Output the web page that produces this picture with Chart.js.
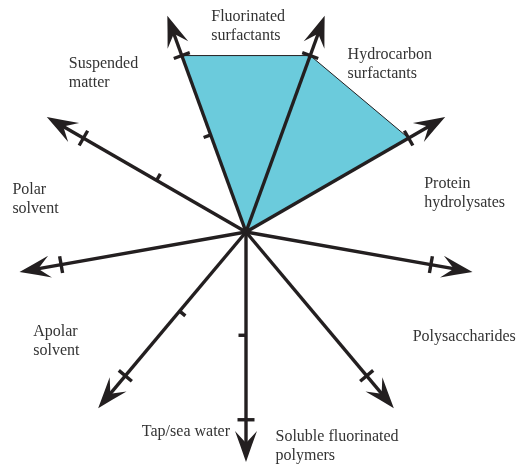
<!DOCTYPE html>
<html>
<head>
<meta charset="utf-8">
<script src="https://cdn.jsdelivr.net/npm/chart.js@4"></script>
<style>
  body { margin: 0; background: #fff; }
</style>
</head>
<body>
<canvas id="myChart" width="517" height="468"></canvas>
<script>
// DATA ----------------------------------------
const categories = [
    ['Fluorinated', 'surfactants'],
    ['Hydrocarbon', 'surfactants'],
    ['Protein', 'hydrolysates'],
    ['Polysaccharides'],
    ['Soluble fluorinated', 'polymers'],
    ['Tap/sea water'],
    ['Apolar', 'solvent'],
    ['Polar', 'solvent'],
    ['Suspended', 'matter']
];
const values   = [2, 2, 2, 0, 0, 0, 0, 0, 0];        // filled area
const fullTick = [2, 2, 2, 2, 2, 2, 2, 2, 2];        // tick across the axis
const midTick  = [1.1, null, null, null, null, 1.1, 1.1, null, 1.1];  // half tick
const axisEnd  = 2.45;                               // where the arrow tips sit

// LAYOUT / STYLE -------------------------------
const ink = '#231f20';
const midSide    = [-1, 0, 0, 0, 0, 1, -1, 0, 1];    // +1 = clockwise side
const labelTurn  = [20.6, 20.6, 20, 15.6, 17, 16.7, 20, 18.8, 18];   // degrees past the axis
const labelDist  = [206, 221, 222, 242, 233, 209, 219, 213, 213];    // px from centre
const lineGap = 19;

const axisArrows = {
    id: 'axisArrows',
    afterDatasetsDraw(chart) {
        const scale = chart.scales.r;
        const c = chart.ctx;
        c.save();
        c.strokeStyle = ink;
        c.fillStyle = ink;
        c.lineWidth = 3.4;
        for (let i = 0; i < categories.length; i++) {
            const tip = scale.getPointPositionForValue(i, axisEnd);
            const ux = Math.cos(tip.angle), uy = Math.sin(tip.angle);
            const nx = -uy, ny = ux;
            // shaft
            c.beginPath();
            c.moveTo(scale.xCenter, scale.yCenter);
            c.lineTo(tip.x - ux * 18, tip.y - uy * 18);
            c.stroke();
            // arrow head
            const L = 31, W = 11, N = 19;
            c.beginPath();
            c.moveTo(tip.x, tip.y);
            c.quadraticCurveTo(tip.x - ux * 16 + nx * 5.5, tip.y - uy * 16 + ny * 5.5,
                               tip.x - ux * L + nx * W, tip.y - uy * L + ny * W);
            c.lineTo(tip.x - ux * N, tip.y - uy * N);
            c.lineTo(tip.x - ux * L - nx * W, tip.y - uy * L - ny * W);
            c.quadraticCurveTo(tip.x - ux * 16 - nx * 5.5, tip.y - uy * 16 - ny * 5.5,
                               tip.x, tip.y);
            c.closePath();
            c.fill();
            // full tick
            const f = scale.getPointPositionForValue(i, fullTick[i]);
            c.beginPath();
            c.moveTo(f.x - nx * 8.5, f.y - ny * 8.5);
            c.lineTo(f.x + nx * 8.5, f.y + ny * 8.5);
            c.stroke();
            // half tick
            if (midTick[i] !== null) {
                const m = scale.getPointPositionForValue(i, midTick[i]);
                c.beginPath();
                c.moveTo(m.x, m.y);
                c.lineTo(m.x + nx * 7.5 * midSide[i], m.y + ny * 7.5 * midSide[i]);
                c.stroke();
            }
        }
        // labels, sitting between the axes
        c.font = '16px "Liberation Serif", serif';
        c.fillStyle = '#333333';
        c.textBaseline = 'middle';
        c.textAlign = 'left';
        for (let i = 0; i < categories.length; i++) {
            const a = scale.getIndexAngle(i) + labelTurn[i] * Math.PI / 180 - Math.PI / 2;
            const cx = scale.xCenter + Math.cos(a) * labelDist[i];
            const cy = scale.yCenter + Math.sin(a) * labelDist[i];
            const lines = categories[i];
            const w = Math.max(...lines.map(t => c.measureText(t).width));
            lines.forEach((t, k) => {
                c.fillText(t, cx - w / 2, cy + (k - (lines.length - 1) / 2) * lineGap);
            });
        }
        c.restore();
    }
};

const ctx = document.getElementById('myChart');
const chart = new Chart(ctx, {
    type: 'radar',
    data: {
        labels: categories,
        datasets: [{
            data: values,
            fill: true,
            backgroundColor: '#6bcbdc',
            borderColor: ink,
            borderWidth: 1,
            pointRadius: 0,
            tension: 0
        }]
    },
    options: {
        responsive: false,
        animation: false,
        layout: { padding: { left: 16, right: 41, top: 2, bottom: 6 } },
        plugins: { legend: { display: false }, tooltip: { enabled: false } },
        scales: {
            r: {
                min: 0,
                max: axisEnd,
                startAngle: -20,
                grid: { display: false },
                angleLines: { display: false },
                pointLabels: { display: false },
                ticks: { display: false }
            }
        }
    },
    plugins: [axisArrows]
});
</script>
</body>
</html>
